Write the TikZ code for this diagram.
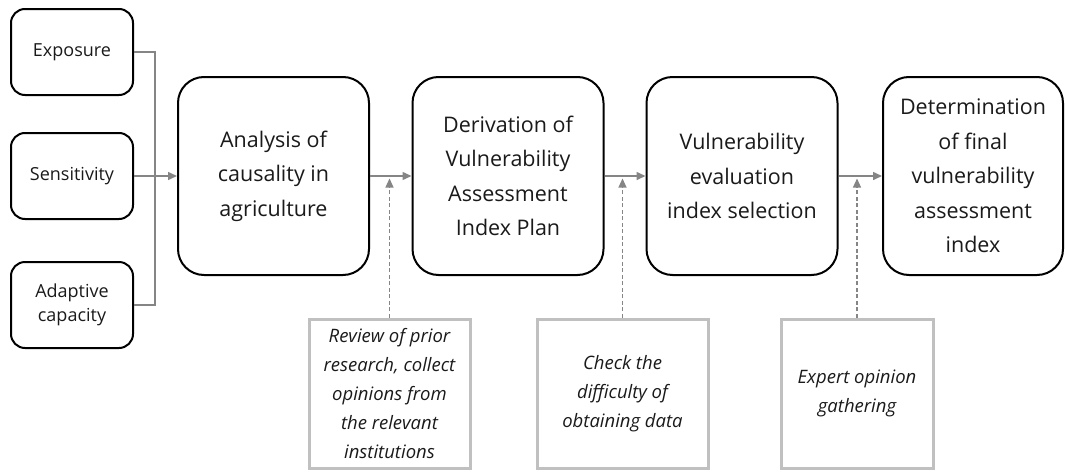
\documentclass[tikz,border=0pt]{standalone}
\usepackage{fontspec}
\setmainfont{Open Sans}
\usetikzlibrary{arrows.meta}
\definecolor{linkgray}{HTML}{858585}
\definecolor{notegray}{HTML}{C0C0C0}
\definecolor{inkdark}{HTML}{1A1A1A}
\begin{document}
\begin{tikzpicture}[x=1pt,y=-1pt,
  sidebox/.style={draw=black, line width=2pt, rounded corners=14pt,
    minimum width=122pt, minimum height=86pt, align=center, text=inkdark,
    font=\fontsize{18}{24}\selectfont, inner sep=0pt},
  mainbox/.style={draw=black, line width=2pt, rounded corners=26pt,
    minimum width=191pt, minimum height=198pt, align=center, text=inkdark,
    font=\fontsize{21.5}{34.5}\selectfont, inner sep=0pt},
  notebox/.style={draw=notegray, line width=3pt,
    minimum height=149pt, align=center, text=inkdark,
    font=\fontsize{18.5}{28.8}\selectfont\itshape, inner sep=0pt},
  link/.style={draw=linkgray, line width=1.5pt},
  flow/.style={link, -{Triangle[length=9pt,width=8pt]}},
  feed/.style={draw=linkgray, line width=1.1pt, dash pattern=on 4pt off 2.5pt,
    -{Triangle[length=9pt,width=8pt]}}
]
\useasboundingbox (0,0) rectangle (1065,471);

% input factors
\node[sidebox] (exp) at (72,52)  {Exposure};
\node[sidebox] (sen) at (72,176) {Sensitivity};
\node[sidebox] (ada) at (72,305) {Adaptive\\capacity};

% main process steps
\node[mainbox] (ana) at (273.5,176) {Analysis of\\causality in\\agriculture};
\node[mainbox] (der) at (508,176) {Derivation of\\Vulnerability\\Assessment\\Index Plan};
\node[mainbox] (sel) at (742,176) {Vulnerability\\evaluation\\index selection};
\node[mainbox, minimum width=180pt] (det) at (973,176)
  {Determination\\of final\\vulnerability\\assessment\\index};

% supporting activities
\node[notebox, minimum width=161pt] (n1) at (389.5,393.5)
  {Review of prior\\research, collect\\opinions from\\the relevant\\institutions};
\node[notebox, minimum width=171pt] (n2) at (622.5,393.5)
  {Check the\\difficulty of\\obtaining data};
\node[notebox, minimum width=152pt] (n3) at (857,393.5)
  {Expert opinion\\gathering};

% factor bus
\coordinate (busb) at (155,305);
\draw[link] (exp.east) -| (busb) -- (ada.east);
\draw[flow] (sen.east) -- (ana.west);

% process flow
\draw[flow] (ana.east) -- (der.west);
\draw[flow] (der.east) -- (sel.west);
\draw[flow] (sel.east) -- (det.west);

% feedback from supporting activities
\draw[feed] (n1.north) -- ([yshift=-2.5pt]n1.north |- ana.east);
\draw[feed] (n2.north) -- ([yshift=-2.5pt]n2.north |- der.east);
\draw[feed] (n3.north) -- ([yshift=-2.5pt]n3.north |- sel.east);
\end{tikzpicture}
\end{document}
